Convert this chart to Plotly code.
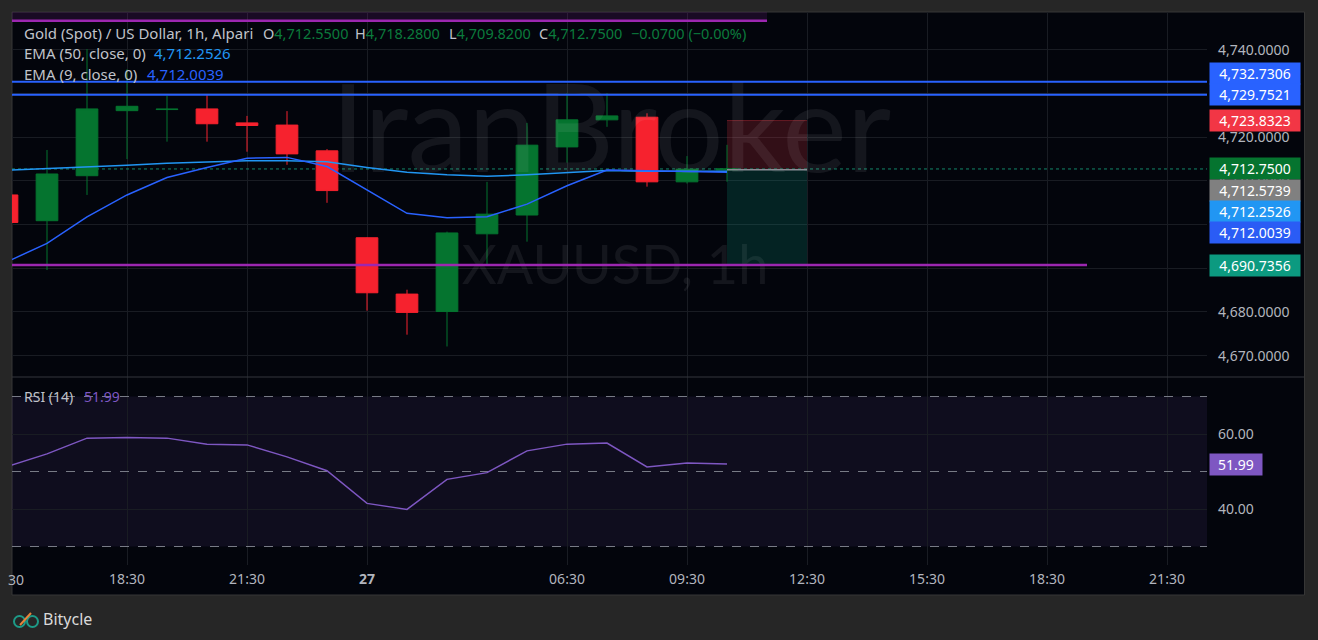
import plotly.graph_objects as go

# 1h bars, Jan 26 15:30 -> Jan 27 10:30 (daily break after 23:30)
times = ['15:30', '16:30', '17:30', '18:30', '19:30', '20:30', '21:30', '22:30', '23:30',
         '01:30', '02:30', '03:30', '04:30', '05:30', '06:30', '07:30', '08:30', '09:30', '10:30']
opens = [4706.8, 4700.9, 4711.2, 4726.1, 4726.35, 4726.5, 4723.3, 4722.8, 4716.9,
         4697.0, 4684.1, 4680.1, 4697.9, 4702.2, 4717.8, 4724.0, 4724.6, 4709.8, 4712.55]
highs = [4708.0, 4717.1, 4740.2, 4735.6, 4729.5, 4729.9, 4724.9, 4726.0, 4717.3,
         4697.1, 4685.1, 4698.4, 4709.8, 4723.3, 4730.1, 4730.1, 4725.5, 4715.7, 4718.28]
lows = [4699.5, 4689.6, 4706.8, 4715.0, 4719.0, 4719.0, 4716.7, 4713.7, 4705.0,
        4680.3, 4674.8, 4672.1, 4690.6, 4696.1, 4714.2, 4722.4, 4708.7, 4709.4, 4709.82]
closes = [4700.5, 4711.6, 4726.5, 4727.1, 4726.45, 4723.1, 4722.7, 4716.2, 4707.8,
          4684.4, 4679.9, 4698.1, 4702.4, 4718.2, 4724.0, 4724.9, 4709.8, 4712.7, 4712.75]
ema50 = [4712.45, 4712.8, 4713.1, 4713.6, 4714.05, 4714.35, 4714.65, 4714.65, 4714.4,
         4713.1, 4712.0, 4711.4, 4711.1, 4711.4, 4711.9, 4712.4, 4712.2, 4712.15, 4712.2526]
ema9 = [4691.5, 4695.7, 4701.8, 4706.8, 4710.8, 4713.1, 4715.2, 4715.4, 4713.3,
        4707.9, 4702.6, 4701.6, 4701.8, 4704.7, 4708.9, 4712.5, 4712.3, 4712.1, 4712.0039]
rsi = [51.3, 54.7, 58.9, 59.1, 58.9, 57.3, 57.1, 53.9, 50.2,
       41.5, 39.9, 47.9, 49.7, 55.5, 57.3, 57.6, 51.2, 52.3, 51.99]

tick_bars = [3, 6, 9, 14, 17, 20, 23, 26, 29]
tick_text = ['18:30', '21:30', '<b>27</b>', '06:30', '09:30', '12:30', '15:30', '18:30', '21:30']
price_ticks = [4670, 4680, 4690, 4700, 4710, 4720, 4730, 4740]
rsi_ticks = [40, 60]
rsi_lines = [30, 50, 70]

blue_levels = [4732.7306, 4729.7521]
support = 4690.7356
zone_bottom = 4746.7
entry, stop, target = 4712.5739, 4723.8323, 4690.7356
last_close = closes[-1]

GREEN = '#05742f'
RED = '#f6222e'
BG = '#03050c'
GRID = '#191c23'
TXT = '#c0c3ca'
AX = '#b2b5be'
FONT = 'Noto Sans'

# pixel layout of the plot area inside the 1318x640 page
L, R, T, B = 12, 1207, 12, 565
SPLIT = 377


def px(x):
    return (x - L) / (R - L)


def py(y):
    return (B - y) / (B - T)


bars = list(range(len(times)))
xr = [(L - 7) / 40, (R - 7) / 40]
yr = [4720 - (SPLIT - 137.3) / 4.367, 4720 + (137.3 - T) / 4.367]
rr = [50 - (B - 471.5) / 3.75, 70 + (396.5 - SPLIT) / 3.75]

fig = go.Figure()

# watermark, under the candles
fig.add_trace(go.Scatter(x=[15.1, 15.2], y=[4719.1, 4689.6], mode='text',
                         text=['IranBroker', 'XAUUSD, 1h'],
                         textfont=dict(size=[122, 54], color='rgba(255,255,255,0.07)', family='Lato'),
                         hoverinfo='skip', showlegend=False))

fig.add_trace(go.Candlestick(x=bars, open=opens, high=highs, low=lows, close=closes,
                             increasing=dict(line=dict(color=GREEN, width=1), fillcolor=GREEN),
                             decreasing=dict(line=dict(color=RED, width=1), fillcolor=RED),
                             whiskerwidth=0, showlegend=False))
fig.add_trace(go.Scatter(x=bars, y=ema50, mode='lines', line=dict(color='#2196f3', width=1.5),
                         showlegend=False))
fig.add_trace(go.Scatter(x=bars, y=ema9, mode='lines', line=dict(color='#2962ff', width=1.5),
                         showlegend=False))
fig.add_trace(go.Scatter(x=bars, y=rsi, mode='lines', line=dict(color='#7e57c2', width=1.5),
                         xaxis='x2', yaxis='y2', showlegend=False))

shapes = [
    # chart panel
    dict(type='rect', xref='paper', yref='paper', x0=px(12), x1=px(1304.5), y0=py(595), y1=py(12),
         fillcolor=BG, line=dict(color='#363636', width=1), layer='below'),
    # pane separator
    dict(type='line', xref='paper', yref='paper', x0=0, x1=px(1304), y0=py(SPLIT), y1=py(SPLIT),
         line=dict(color='#34373d', width=1), layer='above'),
    # rsi band
    dict(type='rect', xref='x2', yref='y2', x0=xr[0], x1=xr[1], y0=30, y1=70,
         fillcolor='rgba(126,87,194,0.1)', line=dict(width=0), layer='below'),
    # purple zone above the view
    dict(type='rect', xref='x', yref='y', x0=xr[0], x1=19, y0=zone_bottom, y1=yr[1] + 5,
         fillcolor='rgba(156,39,176,0.15)', line=dict(width=0), layer='between'),
    dict(type='line', xref='x', yref='y', x0=xr[0], x1=19, y0=zone_bottom, y1=zone_bottom,
         line=dict(color='#9c27b0', width=2.5), layer='above'),
    # short position tool
    dict(type='rect', xref='x', yref='y', x0=18, x1=20, y0=entry, y1=stop,
         fillcolor='rgba(242,54,69,0.2)', line=dict(width=0), layer='between'),
    dict(type='line', xref='x', yref='y', x0=18, x1=20, y0=stop, y1=stop,
         line=dict(color='rgba(242,54,69,0.35)', width=1), layer='between'),
    dict(type='rect', xref='x', yref='y', x0=18, x1=20, y0=target, y1=entry,
         fillcolor='rgba(8,153,129,0.2)', line=dict(width=0), layer='between'),
    dict(type='line', xref='x', yref='y', x0=18, x1=20, y0=entry, y1=entry,
         line=dict(color='#8a8d96', width=1.5), layer='above'),
    # last price
    dict(type='line', xref='x', yref='y', x0=xr[0], x1=xr[1], y0=last_close, y1=last_close,
         line=dict(color='#13876a', width=1, dash='dot'), layer='between'),
    # support
    dict(type='line', xref='x', yref='y', x0=xr[0], x1=27, y0=support, y1=support,
         line=dict(color='#9c27b0', width=2.5), layer='above'),
]
for lv in blue_levels:
    shapes.append(dict(type='line', xref='x', yref='y', x0=xr[0], x1=xr[1], y0=lv, y1=lv,
                       line=dict(color='#2962ff', width=2), layer='above'))
for lv in rsi_lines:
    shapes.append(dict(type='line', xref='x2', yref='y2', x0=xr[0], x1=xr[1], y0=lv, y1=lv,
                       line=dict(color='#787b86', width=1, dash='dash'), layer='between'))

# bitycle logo icon
shapes += [
    dict(type='circle', xref='paper', yref='paper', x0=px(14), x1=px(25), y0=py(627), y1=py(616),
         line=dict(color='#1d9a87', width=2)),
    dict(type='circle', xref='paper', yref='paper', x0=px(27), x1=px(38), y0=py(627), y1=py(616),
         line=dict(color='#1d9a87', width=2)),
    dict(type='line', xref='paper', yref='paper', x0=px(20), x1=px(31), y0=py(625), y1=py(613),
         line=dict(color='#e8833a', width=2)),
]

ann = []


def text(x, y, s, size=15, color=TXT, anchor='left', **kw):
    ann.append(dict(xref='paper', yref='paper', x=px(x), y=py(y), text=s, showarrow=False,
                    xanchor=anchor, yanchor='middle', font=dict(family=FONT, size=size, color=color), **kw))


def g(s):
    return '<span style="color:#0b7b3c">' + s + '</span>'


text(22, 33, 'Gold (Spot) / US Dollar, 1h, Alpari')
text(261, 33, 'O' + g('4,712.5500'), size=14.5)
text(353, 33, 'H' + g('4,718.2800'), size=14.5)
text(447, 33, 'L' + g('4,709.8200'), size=14.5)
text(537, 33, 'C' + g('4,712.7500'), size=14.5)
text(629, 33, g('\u22120.0700 (\u22120.00%)'), size=14.5)
text(22, 53, 'EMA (50, close, 0)')
text(152, 53, '4,712.2526', color='#2196f3')
text(22, 74, 'EMA (9, close, 0)')
text(145, 74, '4,712.0039', color='#2962ff')
text(22, 397, 'RSI (14)', size=14)
text(82, 397, '51.99', size=14, color='#7e57c2')
text(25.5, 579, '30', size=14, color=AX, anchor='right')
text(41, 619, 'Bitycle', size=16, color='#d9d9d9')

# price scale labels
price_labels = [
    (4732.7306, '#2962ff', 8.7),
    (4729.7521, '#2962ff', 0),
    (stop, '#f23645', 0),
    (last_close, GREEN, 0),
    (entry, '#808080', -20.4),
    (ema50[-1], '#2196f3', -40),
    (ema9[-1], '#2a5cf5', -60.4),
    (target, '#0c9a80', 0),
]
for v, c, sh in price_labels:
    ann.append(dict(xref='paper', yref='y', x=1, y=v, xanchor='left', yanchor='middle', xshift=2, yshift=sh,
                    text=f'{v:,.4f}', showarrow=False, bgcolor=c, width=86, height=17, borderpad=2,
                    font=dict(family=FONT, size=14, color='white')))
ann.append(dict(xref='paper', yref='y2', x=1, y=rsi[-1], xanchor='left', yanchor='middle', xshift=2,
                text=f'{rsi[-1]:.2f}', showarrow=False, bgcolor='#7e57c2', width=48, height=17, borderpad=2,
                font=dict(family=FONT, size=14, color='white')))

fig.update_layout(
    width=1318, height=640,
    margin=dict(l=L, r=1318 - R, t=T, b=640 - B),
    paper_bgcolor='#262626', plot_bgcolor=BG,
    showlegend=False, hovermode=False, boxgap=0.225,
    shapes=shapes, annotations=ann,
    xaxis=dict(domain=[0, 1], anchor='y', range=xr, tickvals=tick_bars, showticklabels=False,
               showgrid=True, gridcolor=GRID, zeroline=False, rangeslider=dict(visible=False), fixedrange=True),
    xaxis2=dict(domain=[0, 1], anchor='y2', range=xr, tickvals=tick_bars, ticktext=tick_text,
                showgrid=True, gridcolor=GRID, zeroline=False, ticks='', ticklabelstandoff=4,
                tickfont=dict(family=FONT, size=14, color=AX), fixedrange=True),
    yaxis=dict(domain=[py(SPLIT), 1], anchor='x', range=yr, side='right', tickvals=price_ticks,
               ticktext=[f'{v:,.4f}' for v in price_ticks], showgrid=True, gridcolor=GRID,
               zeroline=False, ticks='', ticklabelstandoff=10,
               tickfont=dict(family=FONT, size=14, color=AX), fixedrange=True),
    yaxis2=dict(domain=[0, py(SPLIT)], anchor='x2', range=rr, side='right', tickvals=rsi_ticks,
                ticktext=[f'{v:.2f}' for v in rsi_ticks], showgrid=True, gridcolor=GRID,
                zeroline=False, ticks='', ticklabelstandoff=10,
                tickfont=dict(family=FONT, size=14, color=AX), fixedrange=True),
)

# drop the default 8px page margin so the figure sits at the window's corner
fig.write_html("out.html", config=dict(displayModeBar=False),
               post_script="document.body.style.margin='0';")
